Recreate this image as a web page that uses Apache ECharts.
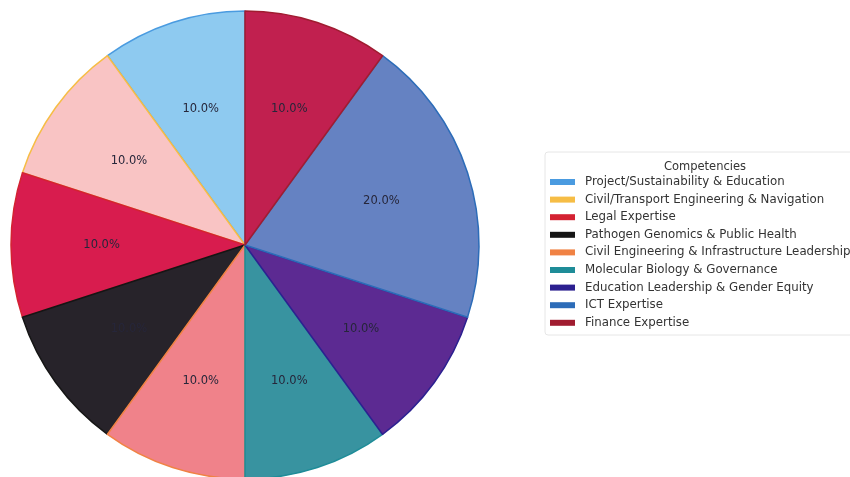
<!DOCTYPE html>
<html>
<head>
<meta charset="utf-8">
<script src="https://cdn.jsdelivr.net/npm/echarts@6/dist/echarts.min.js"></script>
<style>
  html, body { margin: 0; padding: 0; background: #ffffff; }
  #chart { width: 850px; height: 477px; }
</style>
</head>
<body>
<div id="chart"></div>
<script>
// Competency areas, in drawing order (counter-clockwise from 12 o'clock)
const categories = [
  'Project/Sustainability & Education',
  'Civil/Transport Engineering & Navigation',
  'Legal Expertise',
  'Pathogen Genomics & Public Health',
  'Civil Engineering & Infrastructure Leadership',
  'Molecular Biology & Governance',
  'Education Leadership & Gender Equity',
  'ICT Expertise',
  'Finance Expertise'
];
// Share of each competency (percent)
const shares = [10, 10, 10, 10, 10, 10, 10, 20, 10];

// Slice fills and outline / legend swatch colours
const fillColors = ['#8ecaf0', '#f9c4c4', '#d81c4e', '#27232a', '#f0828a', '#3893a0', '#5c2a92', '#6582c2', '#c1204f'];
const edgeColors = ['#4a9be0', '#f6bd45', '#d42232', '#151515', '#f08244', '#1e8c98', '#2c2090', '#2c6cb8', '#a01c30'];

const R = 234;            // pie radius in px
const PCT_DIST = 0.6;     // percentage labels sit at 60% of the radius

const chart = echarts.init(document.getElementById('chart'));

const pieData = categories.map((name, i) => ({
  name: name,
  value: shares[i],
  itemStyle: { color: fillColors[i], borderColor: edgeColors[i], borderWidth: 1.5 }
}));

// transparent ring whose mid-radius equals PCT_DIST * R, used only to place labels
const labelData = categories.map((name, i) => ({
  name: name,
  value: shares[i],
  itemStyle: { color: 'rgba(0,0,0,0)', borderWidth: 0 }
}));

const legendData = categories.map((name, i) => ({
  name: name,
  itemStyle: { color: edgeColors[i], borderWidth: 0 }
}));

chart.setOption({
  animation: false,
  title: {
    text: 'Competencies',
    left: 700,
    top: 156,
    textAlign: 'center',
    textStyle: { fontFamily: 'DejaVu Sans', fontSize: 11.5, fontWeight: 'normal', color: '#333' }
  },
  graphic: [{
    type: 'rect',
    shape: { x: 545, y: 152, width: 310, height: 183, r: 3 },
    style: { fill: 'none', stroke: '#e6e6e6', lineWidth: 1 },
    silent: true
  }],
  legend: {
    orient: 'vertical',
    left: 545,
    top: 171,
    icon: 'rect',
    itemWidth: 25,
    itemHeight: 6,
    itemGap: 5.6,
    data: legendData,
    selectedMode: false,
    textStyle: {
      fontFamily: 'DejaVu Sans',
      fontSize: 11.8,
      lineHeight: 12,
      color: '#333',
      padding: [0, 0, 0, 5]
    }
  },
  series: [{
    type: 'pie',
    center: [245, 245],
    radius: [0, R],
    startAngle: 90,
    clockwise: false,
    data: pieData,
    label: { show: false },
    labelLine: { show: false },
    emphasis: { disabled: true }
  }, {
    type: 'pie',
    center: [245, 245],
    radius: [R * (2 * PCT_DIST - 1), R],
    startAngle: 90,
    clockwise: false,
    data: labelData,
    silent: true,
    label: {
      show: true,
      position: 'inside',
      formatter: p => p.percent.toFixed(1) + '%',
      fontFamily: 'DejaVu Sans',
      fontSize: 11.5,
      color: '#26263a'
    },
    labelLine: { show: false },
    emphasis: { disabled: true }
  }]
});
</script>
</body>
</html>
